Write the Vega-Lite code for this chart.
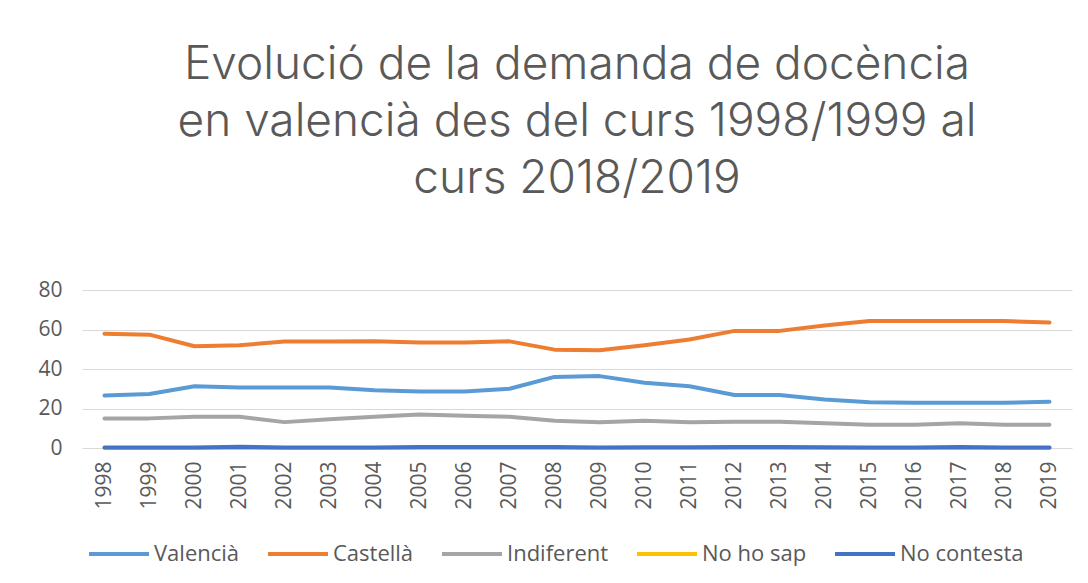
{
  "$schema": "https://vega.github.io/schema/vega-lite/v6.json",
  "width": 990,
  "height": 158,
  "autosize": {"type": "none"},
  "padding": {"left": 82, "top": 290, "right": 16, "bottom": 135},
  "background": "white",
  "title": {
    "text": ["Evolució de la demanda de docència", "en valencià des del curs 1998/1999 al", "curs 2018/2019"],
    "font": "Inter",
    "fontSize": 46,
    "fontWeight": 300,
    "color": "#595959",
    "lineHeight": 57,
    "anchor": "middle",
    "offset": 76
  },
  "data": {
    "values": [
      {"any": "1998", "serie": "Valencià", "valor": 26.6},
      {"any": "1999", "serie": "Valencià", "valor": 27.3},
      {"any": "2000", "serie": "Valencià", "valor": 31.3},
      {"any": "2001", "serie": "Valencià", "valor": 30.6},
      {"any": "2002", "serie": "Valencià", "valor": 30.6},
      {"any": "2003", "serie": "Valencià", "valor": 30.6},
      {"any": "2004", "serie": "Valencià", "valor": 29.3},
      {"any": "2005", "serie": "Valencià", "valor": 28.6},
      {"any": "2006", "serie": "Valencià", "valor": 28.6},
      {"any": "2007", "serie": "Valencià", "valor": 30.0},
      {"any": "2008", "serie": "Valencià", "valor": 36.0},
      {"any": "2009", "serie": "Valencià", "valor": 36.4},
      {"any": "2010", "serie": "Valencià", "valor": 33.0},
      {"any": "2011", "serie": "Valencià", "valor": 31.3},
      {"any": "2012", "serie": "Valencià", "valor": 26.8},
      {"any": "2013", "serie": "Valencià", "valor": 26.8},
      {"any": "2014", "serie": "Valencià", "valor": 24.6},
      {"any": "2015", "serie": "Valencià", "valor": 23.2},
      {"any": "2016", "serie": "Valencià", "valor": 22.9},
      {"any": "2017", "serie": "Valencià", "valor": 22.9},
      {"any": "2018", "serie": "Valencià", "valor": 22.9},
      {"any": "2019", "serie": "Valencià", "valor": 23.4},
      {"any": "1998", "serie": "Castellà", "valor": 57.9},
      {"any": "1999", "serie": "Castellà", "valor": 57.4},
      {"any": "2000", "serie": "Castellà", "valor": 51.5},
      {"any": "2001", "serie": "Castellà", "valor": 52.0},
      {"any": "2002", "serie": "Castellà", "valor": 53.9},
      {"any": "2003", "serie": "Castellà", "valor": 53.9},
      {"any": "2004", "serie": "Castellà", "valor": 54.0},
      {"any": "2005", "serie": "Castellà", "valor": 53.4},
      {"any": "2006", "serie": "Castellà", "valor": 53.4},
      {"any": "2007", "serie": "Castellà", "valor": 54.0},
      {"any": "2008", "serie": "Castellà", "valor": 49.8},
      {"any": "2009", "serie": "Castellà", "valor": 49.5},
      {"any": "2010", "serie": "Castellà", "valor": 52.0},
      {"any": "2011", "serie": "Castellà", "valor": 54.9},
      {"any": "2012", "serie": "Castellà", "valor": 59.3},
      {"any": "2013", "serie": "Castellà", "valor": 59.3},
      {"any": "2014", "serie": "Castellà", "valor": 62.0},
      {"any": "2015", "serie": "Castellà", "valor": 64.3},
      {"any": "2016", "serie": "Castellà", "valor": 64.3},
      {"any": "2017", "serie": "Castellà", "valor": 64.3},
      {"any": "2018", "serie": "Castellà", "valor": 64.3},
      {"any": "2019", "serie": "Castellà", "valor": 63.5},
      {"any": "1998", "serie": "Indiferent", "valor": 15.0},
      {"any": "1999", "serie": "Indiferent", "valor": 15.0},
      {"any": "2000", "serie": "Indiferent", "valor": 15.8},
      {"any": "2001", "serie": "Indiferent", "valor": 15.8},
      {"any": "2002", "serie": "Indiferent", "valor": 13.1},
      {"any": "2003", "serie": "Indiferent", "valor": 14.5},
      {"any": "2004", "serie": "Indiferent", "valor": 15.8},
      {"any": "2005", "serie": "Indiferent", "valor": 17.0},
      {"any": "2006", "serie": "Indiferent", "valor": 16.3},
      {"any": "2007", "serie": "Indiferent", "valor": 15.8},
      {"any": "2008", "serie": "Indiferent", "valor": 13.8},
      {"any": "2009", "serie": "Indiferent", "valor": 13.0},
      {"any": "2010", "serie": "Indiferent", "valor": 13.8},
      {"any": "2011", "serie": "Indiferent", "valor": 13.1},
      {"any": "2012", "serie": "Indiferent", "valor": 13.3},
      {"any": "2013", "serie": "Indiferent", "valor": 13.3},
      {"any": "2014", "serie": "Indiferent", "valor": 12.5},
      {"any": "2015", "serie": "Indiferent", "valor": 11.8},
      {"any": "2016", "serie": "Indiferent", "valor": 11.8},
      {"any": "2017", "serie": "Indiferent", "valor": 12.5},
      {"any": "2018", "serie": "Indiferent", "valor": 11.8},
      {"any": "2019", "serie": "Indiferent", "valor": 11.8},
      {"any": "1998", "serie": "No ho sap", "valor": 0},
      {"any": "1999", "serie": "No ho sap", "valor": 0},
      {"any": "2000", "serie": "No ho sap", "valor": 0},
      {"any": "2001", "serie": "No ho sap", "valor": 0},
      {"any": "2002", "serie": "No ho sap", "valor": 0},
      {"any": "2003", "serie": "No ho sap", "valor": 0},
      {"any": "2004", "serie": "No ho sap", "valor": 0},
      {"any": "2005", "serie": "No ho sap", "valor": 0},
      {"any": "2006", "serie": "No ho sap", "valor": 0},
      {"any": "2007", "serie": "No ho sap", "valor": 0},
      {"any": "2008", "serie": "No ho sap", "valor": 0},
      {"any": "2009", "serie": "No ho sap", "valor": 0},
      {"any": "2010", "serie": "No ho sap", "valor": 0},
      {"any": "2011", "serie": "No ho sap", "valor": 0},
      {"any": "2012", "serie": "No ho sap", "valor": 0},
      {"any": "2013", "serie": "No ho sap", "valor": 0},
      {"any": "2014", "serie": "No ho sap", "valor": 0},
      {"any": "2015", "serie": "No ho sap", "valor": 0},
      {"any": "2016", "serie": "No ho sap", "valor": 0},
      {"any": "2017", "serie": "No ho sap", "valor": 0},
      {"any": "2018", "serie": "No ho sap", "valor": 0},
      {"any": "2019", "serie": "No ho sap", "valor": 0},
      {"any": "1998", "serie": "No contesta", "valor": 0.2},
      {"any": "1999", "serie": "No contesta", "valor": 0.2},
      {"any": "2000", "serie": "No contesta", "valor": 0.2},
      {"any": "2001", "serie": "No contesta", "valor": 0.6},
      {"any": "2002", "serie": "No contesta", "valor": 0.3},
      {"any": "2003", "serie": "No contesta", "valor": 0.3},
      {"any": "2004", "serie": "No contesta", "valor": 0.3},
      {"any": "2005", "serie": "No contesta", "valor": 0.5},
      {"any": "2006", "serie": "No contesta", "valor": 0.5},
      {"any": "2007", "serie": "No contesta", "valor": 0.5},
      {"any": "2008", "serie": "No contesta", "valor": 0.5},
      {"any": "2009", "serie": "No contesta", "valor": 0.2},
      {"any": "2010", "serie": "No contesta", "valor": 0.4},
      {"any": "2011", "serie": "No contesta", "valor": 0.4},
      {"any": "2012", "serie": "No contesta", "valor": 0.5},
      {"any": "2013", "serie": "No contesta", "valor": 0.5},
      {"any": "2014", "serie": "No contesta", "valor": 0.4},
      {"any": "2015", "serie": "No contesta", "valor": 0.2},
      {"any": "2016", "serie": "No contesta", "valor": 0.2},
      {"any": "2017", "serie": "No contesta", "valor": 0.5},
      {"any": "2018", "serie": "No contesta", "valor": 0.2},
      {"any": "2019", "serie": "No contesta", "valor": 0.2}
    ]
  },
  "mark": {"type": "line", "strokeWidth": 4, "strokeCap": "round", "strokeJoin": "round"},
  "encoding": {
    "x": {
      "field": "any",
      "type": "ordinal",
      "scale": {"type": "point", "padding": 0.5},
      "axis": {
        "title": null,
        "labelAngle": -90,
        "labelFont": "Open Sans",
        "labelFontSize": 21,
        "labelColor": "#595959",
        "labelPadding": 13,
        "ticks": false,
        "domain": false,
        "grid": false
      }
    },
    "y": {
      "field": "valor",
      "type": "quantitative",
      "scale": {"domain": [0, 80]},
      "axis": {
        "title": null,
        "values": [0, 20, 40, 60, 80],
        "labelFont": "Open Sans",
        "labelFontSize": 21,
        "labelColor": "#595959",
        "labelPadding": 20,
        "ticks": false,
        "domain": false,
        "grid": true,
        "gridColor": "#D9D9D9",
        "gridWidth": 1
      }
    },
    "color": {
      "field": "serie",
      "type": "nominal",
      "sort": ["Valencià", "Castellà", "Indiferent", "No ho sap", "No contesta"],
      "scale": {
        "domain": ["Valencià", "Castellà", "Indiferent", "No ho sap", "No contesta"],
        "range": ["#5B9BD5", "#ED7D31", "#A5A5A5", "#FFC000", "#4472C4"]
      },
      "legend": {
        "title": null,
        "orient": "none",
        "direction": "horizontal",
        "legendX": 5,
        "legendY": 232,
        "symbolType": "stroke",
        "symbolSize": 3600,
        "symbolStrokeWidth": 4,
        "labelFont": "Open Sans",
        "labelFontSize": 22,
        "labelColor": "#595959",
        "labelOffset": 3,
        "columnPadding": 20
      }
    }
  },
  "config": {"view": {"stroke": null}}
}
